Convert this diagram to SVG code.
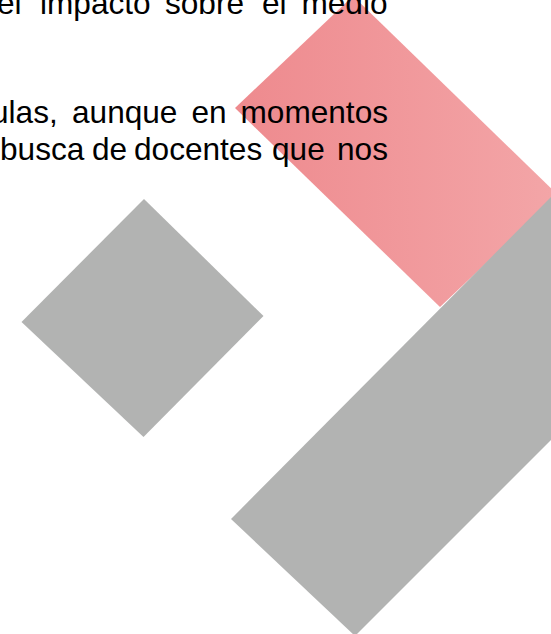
<svg xmlns="http://www.w3.org/2000/svg" width="551" height="634" viewBox="0 0 551 634">
  <defs>
    <linearGradient id="pinkGrad" gradientUnits="userSpaceOnUse" x1="235" y1="0" x2="551" y2="0">
      <stop offset="0" stop-color="#EE8A8E"/>
      <stop offset="1" stop-color="#F3A5A7"/>
    </linearGradient>
    <style>
      .gray { fill: #B2B3B2; }
      .pink { fill: url(#pinkGrad); }
      .txt { font-family: "Liberation Sans", Arial, sans-serif; font-size: 31.6px; fill: #000000; }
    </style>
  </defs>
  <rect width="551" height="634" fill="#FFFFFF"/>
  <g id="pink-bar">
    <polygon class="pink" points="235,108 353,-4 558,195 440,307"/>
  </g>
  <g id="gray-bar">
    <polygon class="gray" points="231,519 561,187 561,430 355,636"/>
  </g>
  <g id="gray-diamond">
    <polygon class="gray" points="144,199 263.5,316 143.5,437 21.5,322"/>
  </g>
  <g id="text">
    <text class="txt" y="14">
      <tspan x="-3">el</tspan>
      <tspan x="40">impacto</tspan>
      <tspan x="165">sobre</tspan>
      <tspan x="262">el</tspan>
      <tspan x="387.5" text-anchor="end">medio</tspan>
    </text>
    <text class="txt" y="123">
      <tspan x="-9">ulas,</tspan>
      <tspan x="72">aunque</tspan>
      <tspan x="191.5">en</tspan>
      <tspan x="388" text-anchor="end">momentos</tspan>
    </text>
    <text class="txt" y="159.5">
      <tspan x="0">busca</tspan>
      <tspan x="92">de</tspan>
      <tspan x="134">docentes</tspan>
      <tspan x="272">que</tspan>
      <tspan x="388" text-anchor="end">nos</tspan>
    </text>
  </g>
</svg>
